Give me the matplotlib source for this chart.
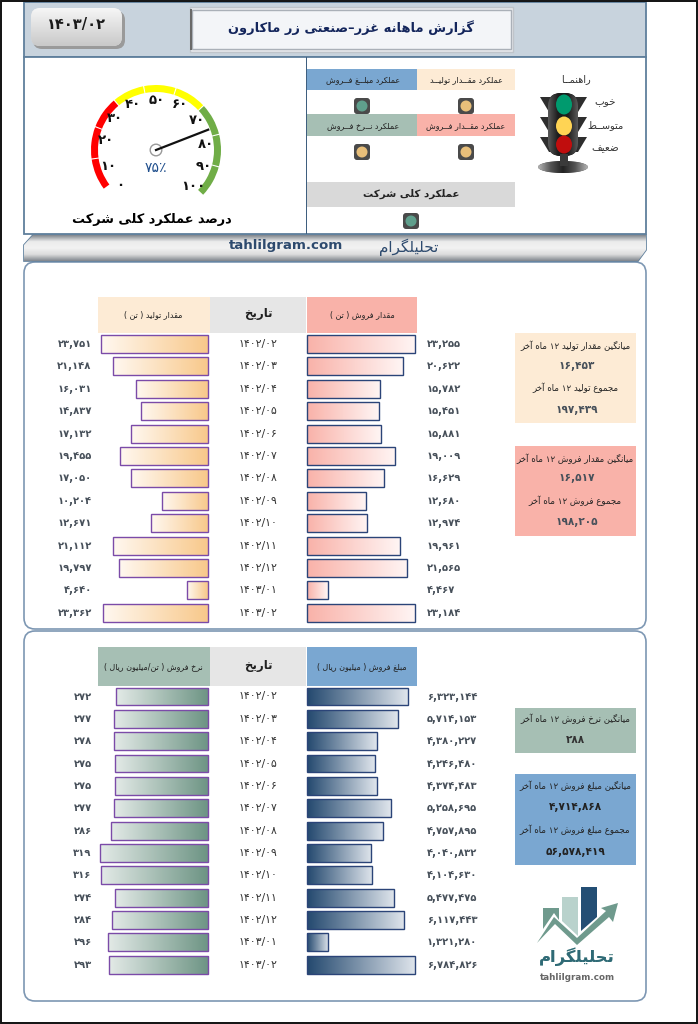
import re
import numpy as np
import matplotlib
matplotlib.use("Agg")
import matplotlib.pyplot as plt
from matplotlib.patches import FancyBboxPatch, Rectangle, Wedge, Circle, Polygon, Ellipse
from matplotlib.colors import LinearSegmentedColormap

# data
dates = ["1402/02", "1402/03", "1402/04", "1402/05", "1402/06", "1402/07", "1402/08",
         "1402/09", "1402/10", "1402/11", "1402/12", "1403/01", "1403/02"]
production = [23751, 21148, 16031, 14837, 17132, 19455, 17050, 10204, 12671, 21112, 19797, 4640, 23362]
sales_qty = [23255, 20622, 15782, 15451, 15881, 19009, 16629, 12680, 12974, 19961, 21565, 4467, 23184]
rate = [272, 277, 278, 275, 275, 277, 286, 319, 316, 274, 284, 296, 293]
sales_amount = [6323144, 5714153, 4380227, 4246480, 4374483, 5258695, 4757895,
                4040832, 4104630, 5477475, 6117443, 1321280, 6784826]
gauge_value = 75
gauge_labels = [0, 10, 20, 30, 40, 50, 60, 70, 80, 90, 100]

W, H = 698, 1024

FORMS = {
    "ا": (0xFE8D, 2), "آ": (0xFE81, 2), "ب": (0xFE8F, 4), "ت": (0xFE95, 4), "ج": (0xFE9D, 4),
    "ح": (0xFEA1, 4), "خ": (0xFEA5, 4), "د": (0xFEA9, 2), "ر": (0xFEAD, 2), "ز": (0xFEAF, 2),
    "س": (0xFEB1, 4), "ش": (0xFEB5, 4), "ص": (0xFEB9, 4), "ض": (0xFEBD, 4), "ط": (0xFEC1, 4),
    "ع": (0xFEC9, 4), "غ": (0xFECD, 4), "ف": (0xFED1, 4), "ق": (0xFED5, 4), "ل": (0xFEDD, 4),
    "م": (0xFEE1, 4), "ن": (0xFEE5, 4), "ه": (0xFEE9, 4), "و": (0xFEED, 2), "ی": (0xFBFC, 4),
    "ک": (0xFB8E, 4), "گ": (0xFB92, 4),
}


def fa_digits(s):
    return str(s).translate(str.maketrans("0123456789", "۰۱۲۳۴۵۶۷۸۹"))


def fa_num(v):
    return fa_digits(f"{v:,}")


# matplotlib does no arabic shaping, so pick the joined forms by hand and reverse
def fa(s):
    s = fa_digits(s)
    out = []
    for i, c in enumerate(s):
        if c not in FORMS:
            out.append(c)
            continue
        base, n = FORMS[c]
        prev = s[i - 1] if i > 0 else " "
        nxt = s[i + 1] if i < len(s) - 1 else " "
        join_prev = prev == "ـ" or (prev in FORMS and FORMS[prev][1] == 4)
        join_next = n == 4 and (nxt == "ـ" or nxt in FORMS)
        if join_prev and join_next:
            out.append(chr(base + 3))
        elif join_next:
            out.append(chr(base + 2))
        elif join_prev:
            out.append(chr(base + 1))
        else:
            out.append(chr(base))
    r = "".join(out)[::-1]
    r = re.sub(r"[۰-۹,/٪]+", lambda m: m.group(0)[::-1], r)
    return r.translate(str.maketrans("()", ")("))


fig = plt.figure(figsize=(W / 100, H / 100), dpi=100, facecolor="white")
bg = fig.add_axes([0, 0, 1, 1])
bg.set_xlim(0, W)
bg.set_ylim(H, 0)
bg.axis("off")


def box(x0, y0, x1, y1, color, ec="none", lw=0, z=1):
    r = Rectangle((x0, y0), x1 - x0, y1 - y0, fc=color, ec=ec, lw=lw, zorder=z)
    bg.add_patch(r)
    return r


def rbox(x0, y0, x1, y1, rad, fc, ec="none", lw=0, z=1):
    r = FancyBboxPatch((x0 + rad, y0 + rad), x1 - x0 - 2 * rad, y1 - y0 - 2 * rad,
                       boxstyle=f"round,pad={rad},rounding_size={rad}", fc=fc, ec=ec, lw=lw, zorder=z)
    bg.add_patch(r)
    return r


def grad(patch, extent, colors, vertical=False, z=2):
    cm = LinearSegmentedColormap.from_list("g", colors)
    arr = np.linspace(0, 1, 128).reshape(-1, 1) if vertical else np.linspace(0, 1, 128).reshape(1, -1)
    ax = patch.axes
    im = ax.imshow(arr, extent=extent, cmap=cm, aspect="auto", zorder=z, origin="upper")
    im.set_clip_path(patch)
    return im


def t(x, y, s, size=7, color="#222222", weight="normal", ha="center", z=8):
    return bg.text(x, y, s, fontsize=size, color=color, fontweight=weight, ha=ha, va="center", zorder=z)


# picture frame
bg.add_patch(Rectangle((0.8, 0.8), W - 1.6, H - 1.6, fc="none", ec="#111111", lw=1.4, zorder=20))

# header
box(24, 2, 646, 57, "#c8d3dd", ec="#5f7f9c", lw=1.3)
box(24, 57, 646, 234, "white", ec="#5f7f9c", lw=1.3)
box(306, 57, 307, 234, "#3f5f7f", z=3)

# date badge
rbox(33, 11, 125, 49, 9, "#9a9a9a", z=2)
p = rbox(31, 8, 122, 46, 9, "#dddddd", z=3)
grad(p, (31, 122, 46, 8), ["#f6f6f6", "#c9c9c9"], vertical=True, z=3)
t(76, 25, fa_digits("1403/02"), 10.5, "#1a1a1a", "bold")

# title box
box(190, 7, 513, 52, "#e7e9ec", ec="#bfc4ca", lw=1)
box(192, 10, 511, 49, "#f3f5f8", ec="#aab0b8", lw=1)
box(190, 9, 192, 50, "#6a6a6a", z=3)
t(351, 28, fa("گزارش ماهانه غزر–صنعتی زر ماکارون"), 9.4, "#14265c", "bold")

# banner
p = Polygon([(33, 235), (646, 235), (646, 250), (638, 261), (24, 261), (24, 245)], closed=True,
            fc="#dddddd", ec="#5f7f9c", lw=1.2, zorder=3)
bg.add_patch(p)
grad(p, (24, 646, 261, 235), ["#7f858c", "#ececec", "#f2f2f2", "#dcdcdc", "#7f858c"], vertical=True, z=3)
t(286, 246, "tahlilgram.com", 9.6, "#2d4a6e", "bold")
t(409, 247, fa("تحلیلگرام"), 11, "#2d4a6e")

# gauge, angles are negated because the y axis points down
gc = (156, 150)
a0, a1 = 217, -44
seg_colors = ["#ff0000"] * 3 + ["#ffff00"] * 3 + ["#70ad47"] * 3
for i, col in enumerate(seg_colors):
    th0 = a0 + (a1 - a0) * i / 9
    th1 = a0 + (a1 - a0) * (i + 1) / 9
    bg.add_patch(Wedge(gc, 65, -th0 + 0.5, -th1 - 0.5, width=7, fc=col, ec="none", zorder=3))
ang = np.radians(a0 + (a1 - a0) * gauge_value / 100)
bg.plot([gc[0], gc[0] + 56 * np.cos(ang)], [gc[1], gc[1] - 56 * np.sin(ang)], color="#111111", lw=1.6, zorder=5)
bg.add_patch(Circle(gc, 5.8, fc="white", ec="#999999", lw=1, zorder=4))
label_xy = [(120, 186), (108, 166), (106, 141), (115, 119), (133, 104), (157, 100),
            (180, 105), (197, 121), (206, 144), (204, 167), (193, 186)]
for v, (x, y) in zip(gauge_labels, label_xy):
    t(x, y, fa_digits(v), 9.5, "#111111", "bold", z=6)
t(156, 168, fa_digits(gauge_value) + "٪", 10, "#1f4e8c")
t(152, 219, fa("درصد عملکرد کلی شرکت"), 9.3, "#000000", "bold")

# performance cells
box(307, 69, 417, 90, "#7aa7d1")
box(417, 69, 515, 90, "#fdebd5")
box(307, 114, 417, 136, "#a6bfb4")
box(417, 114, 515, 136, "#f9b2a9")
box(307, 182, 515, 207, "#d9d9d9")
t(363, 80, fa("عملکرد مبلــغ فــروش"), 5.8)
t(466, 80, fa("عملکرد مقــدار تولیــد"), 5.8)
t(363, 126, fa("عملکرد نــرخ فــروش"), 5.8)
t(466, 126, fa("عملکرد مقــدار فــروش"), 5.8)
t(411, 194, fa("عملکرد کلی شرکت"), 7.4, weight="bold")
for x, y, col in [(362, 106, "#5f9f8c"), (466, 106, "#e8bf7a"), (362, 152, "#e8bf7a"),
                  (466, 152, "#e8bf7a"), (411, 221, "#5f9f8c")]:
    rbox(x - 8, y - 8, x + 8, y + 8, 3, "#4a4a4a", z=3)
    bg.add_patch(Circle((x, y), 5.5, fc=col, ec="none", zorder=4))

# traffic light
for y in (97, 117, 137):
    bg.add_patch(Polygon([(540, y), (587, y), (578, y + 15), (549, y + 15)], fc="#2e2e2e", ec="none", zorder=3))
p = rbox(548, 93, 578, 156, 13, "#222222", z=4)
grad(p, (548, 578, 156, 93), ["#5a5a5a", "#1c1c1c", "#1c1c1c", "#5a5a5a"], z=4)
box(560, 154, 568, 166, "#3a3a3a", z=4)
p = Ellipse((563, 167), 50, 12, fc="#444444", ec="none", zorder=3)
bg.add_patch(p)
grad(p, (538, 588, 173, 161), ["#b5b5b5", "#555555", "#222222", "#555555", "#b5b5b5"], z=3)
for y, h, col in [(104.5, 20, "#009a6e"), (126, 19, "#ffd454"), (144.5, 18, "#c00d0d")]:
    bg.add_patch(Ellipse((564, y), 16, h, fc=col, ec="none", zorder=5))
t(576, 79, fa("راهنمــا"), 7, "#333333")
t(605, 102, fa("خوب"), 7.5, "#333333")
t(606, 125, fa("متوســط"), 7, "#333333")
t(605, 148, fa("ضعیف"), 7.5, "#333333")

# main panels
rbox(24, 262, 646, 629, 11, "white", ec="#7d97b3", lw=1.2)
rbox(24, 631, 646, 1001, 11, "white", ec="#7d97b3", lw=1.2)

# column headers
box(98, 297, 210, 333, "#fdebd5")
box(210, 297, 306, 333, "#e6e6e6")
box(307, 297, 417, 333, "#f9b2a9")
t(153, 315, fa("مقدار تولید ( تن )"), 5.8)
t(258, 314, fa("تاریخ"), 8.5, weight="bold")
t(362, 315, fa("مقدار فروش ( تن )"), 5.8)
box(98, 647, 210, 686, "#a6bfb4")
box(210, 647, 306, 686, "#e6e6e6")
box(307, 647, 417, 686, "#7aa7d1")
t(153, 667, fa("نرخ فروش ( تن/میلیون ریال )"), 5.8)
t(258, 665, fa("تاریخ"), 8.5, weight="bold")
t(362, 667, fa("مبلغ فروش ( میلیون ریال )"), 5.8)


def bars(x0, x1, first, step, values, xlim, colors, ec, labels_left):
    y_top = first - step / 2
    ax = fig.add_axes([x0 / W, 1 - (y_top + 13 * step) / H, (x1 - x0) / W, 13 * step / H])
    ax.patch.set_alpha(0)
    ax.axis("off")
    cont = ax.barh(range(13), values, height=0.8, fc="none", ec=ec, lw=1, zorder=3, clip_on=False)
    for b, v in zip(cont, values):
        grad(b, (0, v, b.get_y() + 0.8, b.get_y()), colors)
    ax.set_xlim(*xlim)
    ax.set_ylim(12.5, -0.5)
    for i, v in enumerate(values):
        if labels_left:
            ax.annotate(fa_num(v), xy=(0, i), xycoords=("axes fraction", "data"), xytext=(-4.5, 0),
                        textcoords="offset points", ha="right", va="center", fontsize=7.2,
                        fontweight="bold", color="#47505a", annotation_clip=False)
        else:
            ax.annotate(fa_num(v), xy=(1, i), xycoords=("axes fraction", "data"), xytext=(7, 0),
                        textcoords="offset points", ha="left", va="center", fontsize=7.2,
                        fontweight="bold", color="#47505a", annotation_clip=False)
    return ax


a = bars(98, 208, 344, 22.4, production, (24400, 0), ["#f8c88a", "#fff8f0"], "#7b4ba8", True)
bars(307, 417, 344, 22.4, sales_qty, (0, 23650), ["#f9b2a9", "#fff5f4"], "#2b4478", False)
b = bars(98, 208, 696.5, 22.35, rate, (325, 0), ["#6d9484", "#e3eae7"], "#7b4ba8", True)
bars(307, 417, 696.5, 22.35, sales_amount, (0, 6908000), ["#24496f", "#dfe5ec"], "#2b4478", False)
for ax in (a, b):
    for i, d in enumerate(dates):
        ax.annotate(fa_digits(d), xy=(1, i), xycoords=("axes fraction", "data"), xytext=(36, 0),
                    textcoords="offset points", ha="center", va="center", fontsize=7.8,
                    color="#333333", annotation_clip=False)

# summary boxes
box(515, 333, 636, 423, "#fdebd5")
t(575, 346, fa("میانگین مقدار تولید 12 ماه آخر"), 6.2)
t(577, 366, fa_num(16453), 7.6, "#47505a", "bold")
t(575, 388, fa("مجموع تولید 12 ماه آخر"), 6.2)
t(577, 410, fa_num(197439), 7.6, "#47505a", "bold")
box(515, 446, 636, 536, "#f9b2a9")
t(575, 459, fa("میانگین مقدار فروش 12 ماه آخر"), 6.2)
t(577, 478, fa_num(16517), 7.6, "#47505a", "bold")
t(575, 501, fa("مجموع فروش 12 ماه آخر"), 6.2)
t(577, 522, fa_num(198205), 7.6, "#47505a", "bold")
box(515, 708, 636, 753, "#a6bfb4")
t(575, 719, fa("میانگین نرخ فروش 12 ماه آخر"), 6.2)
t(575, 740, fa_num(288), 7.6, "#333333", "bold")
box(515, 774, 636, 865, "#7aa7d1")
t(575, 786, fa("میانگین مبلغ فروش 12 ماه آخر"), 6.2)
t(575, 807, fa_num(4714868), 7.6, "#222222", "bold")
t(575, 830, fa("مجموع مبلغ فروش 12 ماه آخر"), 6.2)
t(575, 852, fa_num(56578419), 7.6, "#222222", "bold")

# logo
bg.add_patch(Polygon([(543, 908), (559, 908), (559, 920), (554, 913), (543, 929)], fc="#6f9a8d", zorder=2))
bg.add_patch(Polygon([(562, 897), (578, 897), (578, 936), (562, 921)], fc="#b9d2cc", zorder=2))
bg.add_patch(Polygon([(581, 887), (597, 887), (597, 917), (581, 931)], fc="#234e74", zorder=2))
bg.add_patch(Polygon([(537, 943), (554, 917), (577, 938), (606, 911), (601, 908), (618, 903), (613, 922),
                      (609, 917), (577, 945), (555, 924)], fc="#6f9a8d", ec="none", zorder=3))
logo_mid = 578
for color, x0, x1 in [("#a3c3bc", 530, logo_mid), ("#2f6a76", logo_mid, 625)]:
    tx = t(577, 957, fa("تحلیلگرام"), 11.8, color, "bold")
    tx.set_clip_path(Rectangle((x0, 940), x1 - x0, 40, transform=bg.transData))
t(577, 978, "tahlilgram.com", 6.3, "#666666", "bold")

fig.savefig("out.png", dpi=100)
